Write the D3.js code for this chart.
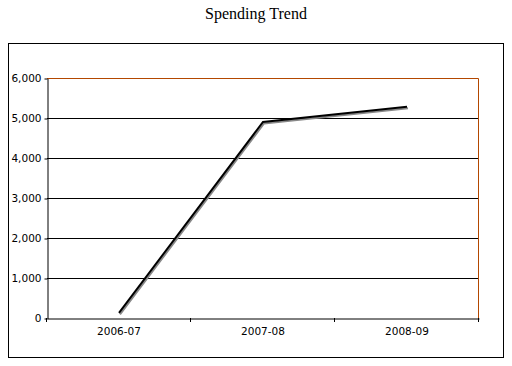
<!DOCTYPE html>
<html><head><meta charset="utf-8">
<script src="https://cdn.jsdelivr.net/npm/d3@7"></script>
<style>body{margin:0;background:#fff;}svg{display:block;}</style>
</head><body>
<script>
const categories = ["2006-07", "2007-08", "2008-09"];
const spending = [130, 4900, 5280];
const yTicks = [0, 1000, 2000, 3000, 4000, 5000, 6000];

const W = 512, H = 366;
const svg = d3.select("body").append("svg").attr("width", W).attr("height", H);
const plot = {left: 47, right: 479, top: 78, bottom: 318};

svg.append("rect").attr("x", 8.5).attr("y", 43.5).attr("width", 495).attr("height", 314)
  .attr("fill", "#fff").attr("stroke", "#000").attr("stroke-width", 1);

svg.append("text").attr("x", 256).attr("y", 19).attr("text-anchor", "middle")
  .attr("font-family", "Liberation Serif, Times New Roman, serif").attr("font-size", 16)
  .text("Spending Trend");

const x = d3.scaleBand().domain(categories).range([plot.left, plot.right]);
const y = d3.scaleLinear().domain([0, 6000]).range([plot.bottom, plot.top]);

// gridlines
svg.append("g").selectAll("line").data(yTicks.filter(d => d > 0 && d < 6000)).join("line")
  .attr("x1", plot.left).attr("x2", plot.right)
  .attr("y1", d => Math.round(y(d)) + 0.5).attr("y2", d => Math.round(y(d)) + 0.5)
  .attr("stroke", "#000").attr("stroke-width", 1);

// orange top & right border
svg.append("path")
  .attr("d", `M${plot.left},${plot.top + 0.5}H${plot.right - 0.5}V${plot.bottom}`)
  .attr("fill", "none").attr("stroke", "#b34700").attr("stroke-width", 1);

// y axis
const yAxis = d3.axisLeft(y).tickValues(yTicks).tickSize(3).tickSizeOuter(0).tickFormat(d3.format(","));
const gy = svg.append("g").attr("transform", `translate(${plot.left + 0.5},0.5)`).call(yAxis);
gy.select(".domain").attr("stroke", "#000");
gy.selectAll(".tick line").attr("stroke", "#000");
gy.selectAll(".tick text").attr("font-family", "DejaVu Sans, Verdana, sans-serif").attr("font-size", 10.5).attr("fill", "#000").attr("x", -6);

// x axis
const xAxis = d3.axisBottom(x).tickSize(0).tickSizeOuter(0);
const gx = svg.append("g").attr("transform", `translate(0,${plot.bottom + 0.5})`).call(xAxis);
gx.select(".domain").attr("stroke", "#000");
gx.selectAll(".tick text").attr("font-family", "DejaVu Sans, Verdana, sans-serif").attr("font-size", 10.5).attr("fill", "#000").attr("dy", "1.3em");
// category boundary ticks
const bounds = categories.map(c => x(c)).concat([plot.right]);
svg.append("g").selectAll("line").data(bounds).join("line")
  .attr("x1", d => Math.round(d) - 0.5).attr("x2", d => Math.round(d) - 0.5)
  .attr("y1", plot.bottom).attr("y2", plot.bottom + 4)
  .attr("stroke", "#000");

// line with shadow
const line = d3.line().x((d, i) => x(categories[i]) + x.bandwidth() / 2).y(d => y(d));
svg.append("path").datum(spending).attr("d", line)
  .attr("transform", "translate(1,1.5)")
  .attr("fill", "none").attr("stroke", "#888").attr("stroke-width", 2);
svg.append("path").datum(spending).attr("d", line)
  .attr("fill", "none").attr("stroke", "#000").attr("stroke-width", 2);
</script>
</body></html>
